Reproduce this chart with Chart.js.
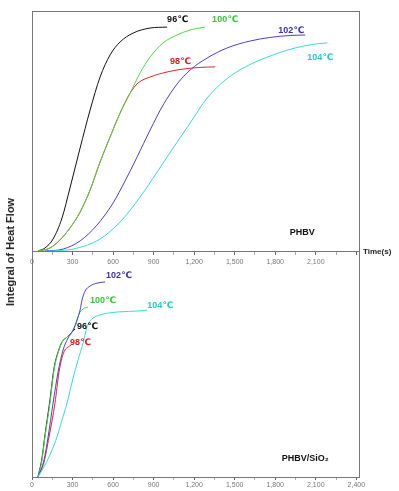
<!DOCTYPE html>
<html><head><meta charset="utf-8">
<script src="https://cdn.jsdelivr.net/npm/chart.js@4/dist/chart.umd.min.js"></script>
<style>
html,body{margin:0;padding:0;background:#fff;}
#wrap{position:relative;width:399px;height:491px;overflow:hidden;background:#fff;}
#c1{position:absolute;left:0;top:0;}
#c2{position:absolute;left:0;top:251px;}
#ylab{position:absolute;left:10px;top:252px;transform:translate(-50%,-50%) rotate(-90deg);white-space:nowrap;font:bold 11px "Liberation Sans",Arial,sans-serif;color:#222;}
</style></head>
<body>
<div id="wrap">
<canvas id="c1" width="399" height="280"></canvas>
<canvas id="c2" width="399" height="240"></canvas>
<div id="ylab">Integral of Heat Flow</div>
</div>
<script>
// ---- x axis ticks (s) ----
const xTickValues = [0, 150, 300, 450, 600, 750, 900, 1050, 1200, 1350, 1500, 1650, 1800, 1950, 2100, 2250, 2400];
const xLabelValues = [0, 300, 600, 900, 1200, 1500, 1800, 2100, 2400];
const xMax = 2420;

// ---- Top panel: PHBV ----
const topTime96 = [44, 96, 156, 222, 281, 356, 430, 504, 578, 652, 748, 874, 1000];
const topHeat96 = [0, 1.25, 5, 13.75, 26.25, 42.9, 58.75, 72.5, 81.7, 87.1, 90.8, 92.9, 93.3];
const topTime98 = [44, 133, 207, 281, 356, 430, 504, 578, 652, 726, 785, 874, 1000, 1118, 1244, 1356];
const topHeat98 = [0, 1.25, 4.6, 9.6, 16.25, 25.4, 37.1, 47.5, 57.5, 65.8, 70, 72.5, 74.6, 75.8, 76.5, 76.7];
const topTime100 = [44, 133, 207, 281, 356, 430, 504, 578, 652, 726, 800, 874, 970, 1074, 1170, 1281];
const topHeat100 = [0, 1.25, 4.6, 9.6, 16.25, 25.4, 37.1, 47.5, 57.5, 65.8, 74.2, 80.8, 86.7, 90, 92.1, 93.3];
const topTime102 = [96, 230, 356, 481, 600, 689, 778, 874, 970, 1074, 1170, 1296, 1444, 1615, 1763, 1911, 2022];
const topHeat102 = [0, 0.8, 4.2, 10.8, 20, 29.2, 39.2, 50.4, 60.8, 69.6, 75.4, 80.4, 84.6, 87.5, 89, 89.8, 90];
const topTime104 = [133, 304, 504, 652, 800, 926, 1044, 1170, 1296, 1430, 1578, 1763, 1948, 2096, 2185];
const topHeat104 = [0, 0.8, 5, 12.1, 22.5, 32.9, 42.9, 53.3, 63.75, 71.25, 76.7, 81.25, 84.6, 86.25, 86.7];

// ---- Bottom panel: PHBV/SiO2 ----
const botTime96 = [44, 74, 96, 133, 163, 193, 222, 259, 289, 319];
const botHeat96 = [0, 8.4, 18.6, 34.1, 48.2, 55.3, 59.7, 61.9, 63.7, 65.5];
const botTime98 = [44, 89, 126, 170, 200, 222, 244, 267, 289];
const botHeat98 = [0, 6.6, 17.7, 32.7, 46.5, 52.7, 56.2, 57.5, 58.4];
const botTime100 = [44, 74, 96, 133, 163, 193, 222, 259, 296, 326, 348, 378, 415];
const botHeat100 = [0, 7.5, 17.7, 32.7, 47.3, 54.9, 59.7, 61.9, 64.2, 67.7, 72.1, 74.3, 75.2];
const botTime102 = [44, 89, 119, 156, 193, 230, 267, 304, 333, 356, 370, 393, 430, 481, 541];
const botHeat102 = [0, 7.5, 17.7, 32.7, 46.5, 56.2, 61.5, 65, 69.5, 73.9, 78.3, 82.3, 84.5, 85.8, 86.3];
const botTime104 = [44, 96, 148, 185, 222, 259, 304, 341, 378, 407, 444, 504, 630, 800, 852];
const botHeat104 = [0, 5.3, 11.9, 17.7, 25.2, 32.7, 43.8, 51.8, 59.3, 66.4, 69.9, 71.7, 73, 73.5, 73.9];

const seriesNames = ['96℃', '98℃', '100℃', '102℃', '104℃'];
const seriesColors = ['#111111', '#ee2222', '#44dd44', '#4a3fd0', '#33dddd'];

function pts(t, v) { return t.map((x, i) => ({ x: x, y: v[i] })); }

// annotation texts (anchored in data units)
const topNotes = [
  { text: '96℃', x: 1000, y: 96.3, color: '#111111' },
  { text: '100℃', x: 1333, y: 96.3, color: '#33cc33' },
  { text: '98℃', x: 1022, y: 78.8, color: '#e02020' },
  { text: '102℃', x: 1822, y: 92, color: '#3a32c0' },
  { text: '104℃', x: 2037, y: 80.8, color: '#22cccc' },
  { text: 'PHBV', x: 2000, y: 7.5, color: '#111111', align: 'center', size: 9 }
];
const botNotes = [
  { text: '102℃', x: 548, y: 89, color: '#3a32c0' },
  { text: '100℃', x: 430, y: 77.9, color: '#33cc33' },
  { text: '104℃', x: 852, y: 75.7, color: '#22cccc' },
  { text: '96℃', x: 333, y: 66.8, color: '#111111' },
  { text: '98℃', x: 281, y: 59.3, color: '#e02020' },
  { text: 'PHBV/SiO₂', x: 2022, y: 8.4, color: '#111111', align: 'center', size: 9 }
];

const notesPlugin = {
  id: 'notes',
  afterDatasetsDraw(chart, args, opts) {
    const ctx = chart.ctx, xs = chart.scales.x, ys = chart.scales.y;
    ctx.save();
    ctx.textBaseline = 'middle';
    (opts.items || []).forEach(n => {
      ctx.font = 'bold ' + (n.size || 9) + 'px "Liberation Sans", "DejaVu Sans", sans-serif';
      ctx.fillStyle = n.color;
      ctx.textAlign = n.align || 'left';
      ctx.fillText(n.text, xs.getPixelForValue(n.x), ys.getPixelForValue(n.y));
    });
    if (opts.axisTitle) {
      const a = chart.chartArea;
      ctx.font = 'bold 8px "Liberation Sans", sans-serif';
      ctx.fillStyle = '#222';
      ctx.textAlign = 'left';
      ctx.fillText(opts.axisTitle, a.right + 4, a.bottom + 1);
    }
    ctx.restore();
  }
};

const framePlugin = {
  id: 'frame',
  afterDraw(chart, args, opts) {
    const a = chart.chartArea, ctx = chart.ctx;
    ctx.save();
    ctx.strokeStyle = '#777';
    ctx.lineWidth = 1;
    ctx.beginPath();
    const s = opts.sides || [];
    if (s.includes('top')) { ctx.moveTo(a.left, a.top + 0.5); ctx.lineTo(a.right, a.top + 0.5); }
    if (s.includes('bottom')) { ctx.moveTo(a.left, a.bottom + 0.5); ctx.lineTo(a.right, a.bottom + 0.5); }
    if (s.includes('left')) { ctx.moveTo(a.left + 0.5, a.top); ctx.lineTo(a.left + 0.5, a.bottom + 1); }
    if (s.includes('right')) { ctx.moveTo(a.right + 0.5, a.top); ctx.lineTo(a.right + 0.5, a.bottom + 1); }
    ctx.stroke();
    ctx.restore();
  }
};

function makeChart(id, series, notes, opt) {
  const datasets = series.map((s, i) => ({
    label: seriesNames[i],
    data: pts(s[0], s[1]),
    borderColor: seriesColors[i],
    borderWidth: 1,
    pointRadius: 0,
    fill: false,
    cubicInterpolationMode: 'monotone'
  })).reverse();
  return new Chart(document.getElementById(id), {
    type: 'line',
    data: { datasets },
    options: {
      responsive: false,
      animation: false,
      layout: { padding: { top: opt.padTop, left: 32, right: 40, bottom: 0 } },
      plugins: {
        legend: { display: false },
        tooltip: { enabled: false },
        notes: { items: notes, axisTitle: opt.axisTitle },
        frame: { sides: opt.sides }
      },
      scales: {
        x: {
          type: 'linear', min: 0, max: xMax,
          border: { display: false },
          afterBuildTicks: s => { s.ticks = xTickValues.map(v => ({ value: v })); },
          grid: {
            drawOnChartArea: false, drawTicks: true, tickLength: opt.tickLength,
            tickColor: c => (c.tick && xLabelValues.includes(c.tick.value)) ? '#666' : '#aaa'
          },
          ticks: {
            autoSkip: false, maxRotation: 0,
            padding: opt.tickPad, color: '#777',
            font: { size: 7, family: '"Liberation Sans", Arial, sans-serif' },
            callback: v => (xLabelValues.includes(v) && v <= opt.lastLabel) ? v.toLocaleString('en-US') : ''
          },
          afterFit: s => { s.height = opt.axisH; }
        },
        y: { display: false, min: 0, max: 100 }
      }
    },
    plugins: [notesPlugin, framePlugin]
  });
}

makeChart('c1',
  [[topTime96, topHeat96], [topTime98, topHeat98], [topTime100, topHeat100], [topTime102, topHeat102], [topTime104, topHeat104]],
  topNotes,
  { padTop: 11, axisH: 29, tickLength: 4, tickPad: 3, lastLabel: 2100, axisTitle: 'Time(s)', sides: ['top', 'left', 'right', 'bottom'] });

makeChart('c2',
  [[botTime96, botHeat96], [botTime98, botHeat98], [botTime100, botHeat100], [botTime102, botHeat102], [botTime104, botHeat104]],
  botNotes,
  { padTop: 0, axisH: 14, tickLength: 3, tickPad: 1, lastLabel: 2400, axisTitle: null, sides: ['left', 'right', 'bottom'] });
</script>
</body></html>
